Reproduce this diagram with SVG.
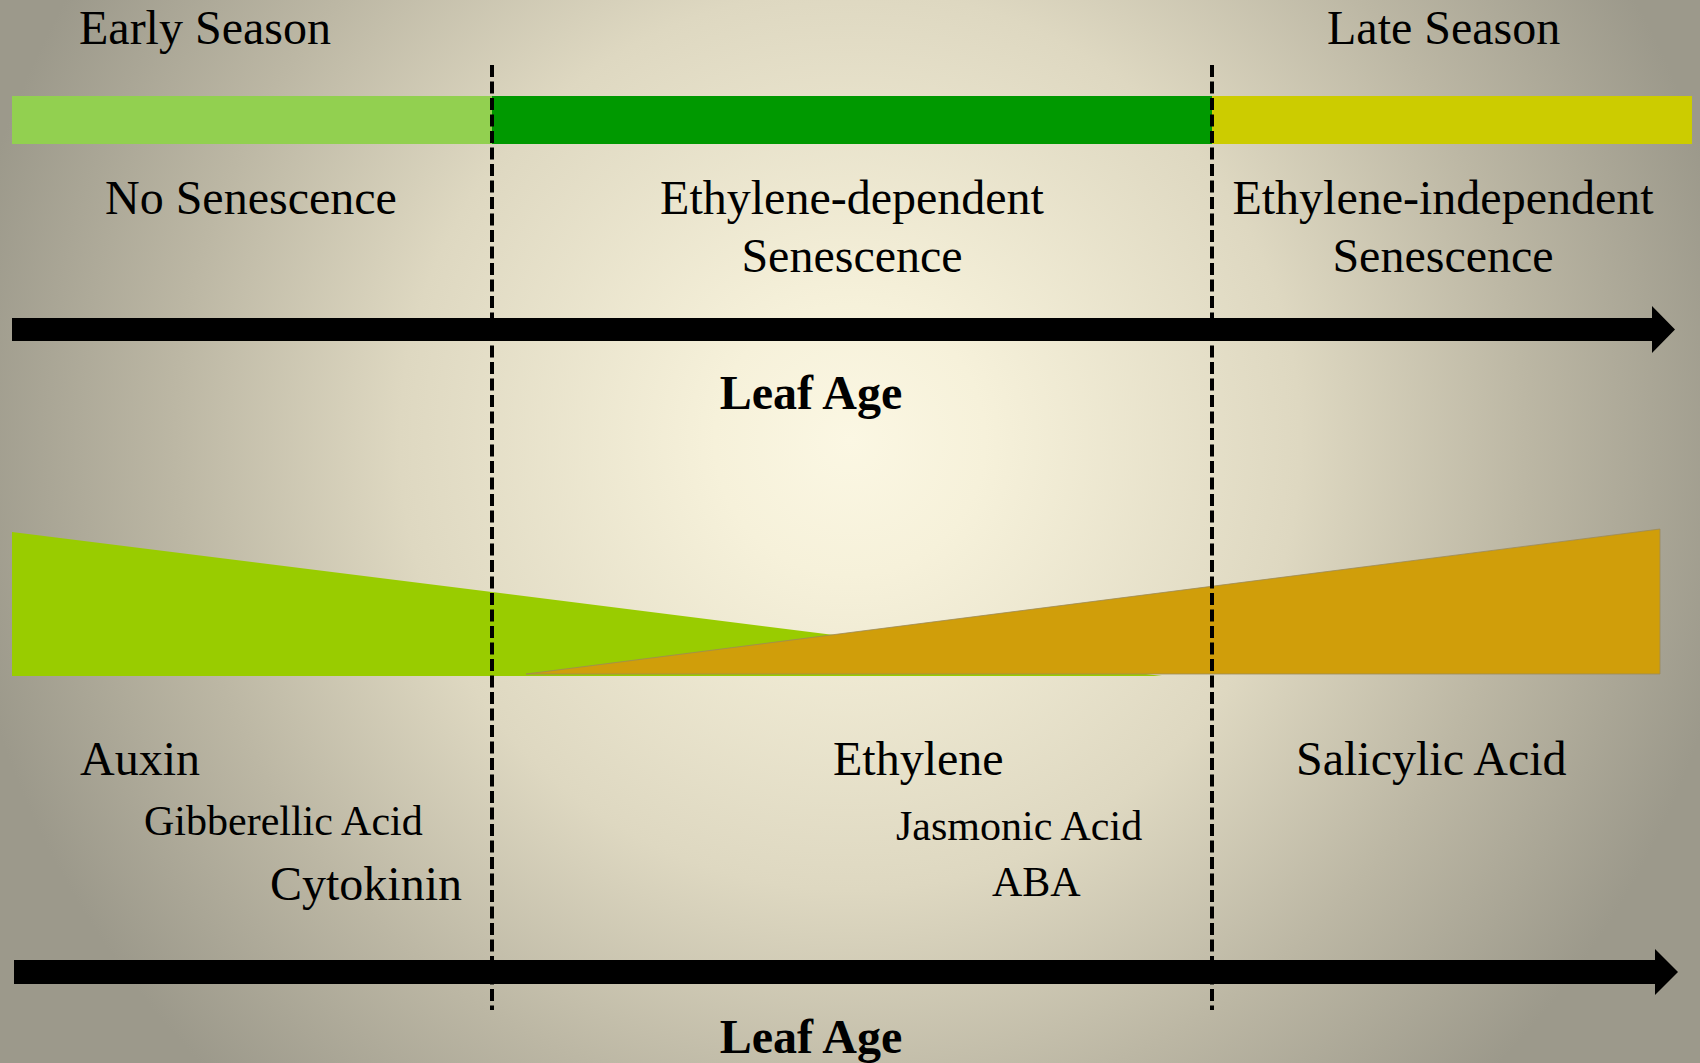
<svg xmlns="http://www.w3.org/2000/svg" width="1700" height="1063" viewBox="0 0 1700 1063">
  <defs>
    <radialGradient id="bg" gradientUnits="userSpaceOnUse" cx="850" cy="440" r="900">
      <stop offset="0" stop-color="#FBF7E3"/>
      <stop offset="0.15" stop-color="#F6F1DA"/>
      <stop offset="0.5" stop-color="#DED8C1"/>
      <stop offset="0.75" stop-color="#BCB7A4"/>
      <stop offset="1" stop-color="#9C998B"/>
    </radialGradient>
    <style>
      .t { font-family: "Liberation Serif", "Times New Roman", serif; font-size: 48px; fill: #000; }
      .s { font-family: "Liberation Serif", "Times New Roman", serif; font-size: 42px; fill: #000; }
      .b { font-family: "Liberation Serif", "Times New Roman", serif; font-size: 48px; font-weight: bold; fill: #000; }
      .dash { stroke: #000; stroke-width: 4; stroke-dasharray: 12 4.5; fill: none; }
    </style>
  </defs>
  <rect x="0" y="0" width="1700" height="1063" fill="url(#bg)"/>

  <g id="season-labels">
    <text class="t" x="79" y="44">Early Season</text>
    <text class="t" x="1327" y="44">Late Season</text>
  </g>

  <g id="phase-bar">
    <rect x="12" y="96" width="480" height="48" fill="#92D050"/>
    <rect x="492" y="96" width="720" height="48" fill="#009900"/>
    <rect x="1212" y="96" width="480" height="48" fill="#CCCC00"/>
  </g>

  <g id="phase-labels">
    <text class="t" x="105" y="214">No Senescence</text>
    <text class="t" x="852" y="214" text-anchor="middle">Ethylene-dependent</text>
    <text class="t" x="852" y="272" text-anchor="middle">Senescence</text>
    <text class="t" x="1443" y="214" text-anchor="middle">Ethylene-independent</text>
    <text class="t" x="1443" y="272" text-anchor="middle">Senescence</text>
  </g>

  <g id="hormone-wedges">
    <polygon points="12,532 1162,676 12,676" fill="#99CC00"/>
    <polygon points="526,674 1660,529 1660,674" fill="#D09E0A" stroke="#9C8A5A" stroke-width="0.8" stroke-linejoin="round"/>
  </g>

  <g id="hormone-labels">
    <text class="t" x="80" y="775">Auxin</text>
    <text class="s" x="144" y="835">Gibberellic Acid</text>
    <text class="t" x="270" y="900">Cytokinin</text>
    <text class="t" x="833" y="775">Ethylene</text>
    <text class="s" x="896" y="840">Jasmonic Acid</text>
    <text class="s" x="992" y="896">ABA</text>
    <text class="t" x="1296" y="775">Salicylic Acid</text>
  </g>

  <g id="connectors">
    <polygon points="12,318 1652,318 1652,306 1675,329.5 1652,353 1652,341 12,341" fill="#000"/>
    <polygon points="14,960 1655,960 1655,949 1678,972 1655,995 1655,984 14,984" fill="#000"/>
    <line class="dash" x1="492" y1="65" x2="492" y2="1010"/>
    <line class="dash" x1="1212" y1="65" x2="1212" y2="1010"/>
  </g>

  <g id="axis-labels">
    <text class="b" x="811" y="409" text-anchor="middle">Leaf Age</text>
    <text class="b" x="811" y="1053" text-anchor="middle">Leaf Age</text>
  </g>
</svg>
